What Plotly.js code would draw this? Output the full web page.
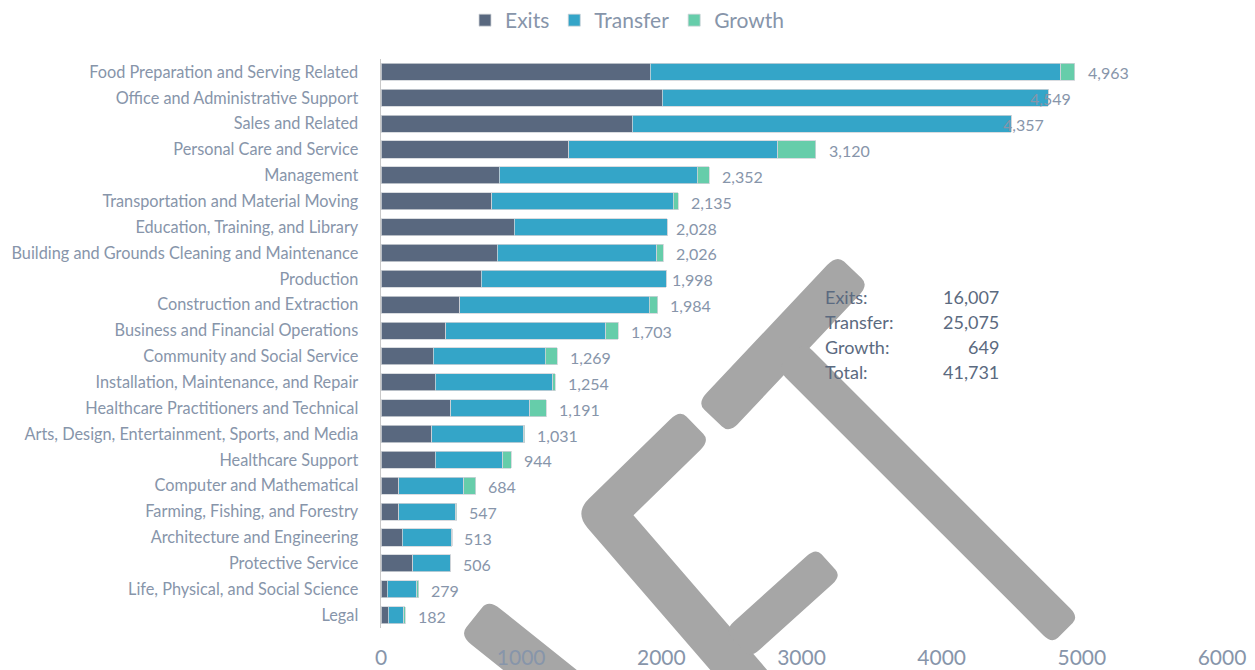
<!DOCTYPE html>
<html>
<head>
<meta charset="utf-8">
<script src="https://cdn.plot.ly/plotly-3.0.1.min.js"></script>
<style>html,body{margin:0;padding:0;background:#fff;}#chart{width:1255px;height:670px;}</style>
</head>
<body>
<div id="chart"></div>
<script>
const categories = [
  "Food Preparation and Serving Related",
  "Office and Administrative Support",
  "Sales and Related",
  "Personal Care and Service",
  "Management",
  "Transportation and Material Moving",
  "Education, Training, and Library",
  "Building and Grounds Cleaning and Maintenance",
  "Production",
  "Construction and Extraction",
  "Business and Financial Operations",
  "Community and Social Service",
  "Installation, Maintenance, and Repair",
  "Healthcare Practitioners and Technical",
  "Arts, Design, Entertainment, Sports, and Media",
  "Healthcare Support",
  "Computer and Mathematical",
  "Farming, Fishing, and Forestry",
  "Architecture and Engineering",
  "Protective Service",
  "Life, Physical, and Social Science",
  "Legal"
];
const exits    = [1922, 2008, 1794, 1338, 844, 789, 951, 830, 716, 561, 461, 373, 388, 497, 361, 388, 126, 126, 153, 226, 46, 53];
const transfer = [2928, 2751, 2703, 1494, 1413, 1297, 1090, 1137, 1318, 1354, 1141, 799, 836, 563, 658, 482, 463, 409, 351, 271, 208, 109];
const growth   = [99, 0, 0, 271, 84, 36, 0, 46, 0, 59, 92, 85, 19, 119, 5, 59, 86, 7, 5, 0, 15, 12];
const totalLabels = [4963, 4549, 4357, 3120, 2352, 2135, 2028, 2026, 1998, 1984, 1703, 1269, 1254, 1191, 1031, 944, 684, 547, 513, 506, 279, 182];
const summaryNames  = ["Exits:", "Transfer:", "Growth:", "Total:"];
const summaryValues = [16007, 25075, 649, 41731];
const xTicks = [0, 1000, 2000, 3000, 4000, 5000, 6000];

const C_EXITS = "#59687f", C_TRANSFER = "#34a5c8", C_GROWTH = "#66cdaa";
const TXT = "#8795aa", TXT_DARK = "#5b6a80";
const FONT = "Lato, 'Open Sans', sans-serif";
const WM = "#a6a6a6";

const W = 1255, H = 670;
const M = {l: 381, r: 33, t: 59, b: 42};
const PW = W - M.l - M.r, PH = H - M.t - M.b;
const px = x => (x - M.l) / PW;
const py = y => (H - M.b - y) / PH;
const P = (x, y) => px(x).toFixed(5) + "," + py(y).toFixed(5);

function unit(ax, ay, bx, by) { const dx = bx - ax, dy = by - ay, L = Math.hypot(dx, dy); return [dx / L, dy / L]; }

function stroke(x1, y1, x2, y2, w) {
  const [ex, ey] = unit(x1, y1, x2, y2);
  const nx = -ey * w / 2, ny = ex * w / 2;
  const ux = ex * w * 0.16, uy = ey * w * 0.16;
  const kx = nx * 0.55, ky = ny * 0.55;
  return {
    type: "path", xref: "paper", yref: "paper", layer: "below",
    fillcolor: WM, line: {width: 0},
    path: "M" + P(x1 + nx, y1 + ny) +
          " L" + P(x2 + nx - ux, y2 + ny - uy) +
          " Q" + P(x2 + nx + ux, y2 + ny + uy) + " " + P(x2 + kx + ux, y2 + ky + uy) +
          " L" + P(x2 - kx + ux, y2 - ky + uy) +
          " Q" + P(x2 - nx + ux, y2 - ny + uy) + " " + P(x2 - nx - ux, y2 - ny - uy) +
          " L" + P(x1 - nx + ux, y1 - ny + uy) +
          " Q" + P(x1 - nx - ux, y1 - ny - uy) + " " + P(x1 - kx - ux, y1 - ky - uy) +
          " L" + P(x1 + kx - ux, y1 + ky - uy) +
          " Q" + P(x1 + nx - ux, y1 + ny - uy) + " " + P(x1 + nx + ux, y1 + ny + uy) + " Z"
  };
}

// bent stroke A -> B -> C with a rounded outer corner
function bent(A, B, C, w) {
  const h = w / 2;
  const d1 = unit(A[0], A[1], B[0], B[1]), d2 = unit(B[0], B[1], C[0], C[1]);
  const n1 = [-d1[1], d1[0]], n2 = [-d2[1], d2[0]];
  let mx = n1[0] + n2[0], my = n1[1] + n2[1]; const mL = Math.hypot(mx, my); mx /= mL; my /= mL;
  const len = h / (mx * n1[0] + my * n1[1]);
  const om = [B[0] + mx * len, B[1] + my * len], im = [B[0] - mx * len, B[1] - my * len];
  const r = 20;
  const ux = d1[0] * w * 0.16, uy = d1[1] * w * 0.16;
  const kx = n1[0] * h * 0.55, ky = n1[1] * h * 0.55;
  const ao = [A[0] + n1[0] * h, A[1] + n1[1] * h], ai = [A[0] - n1[0] * h, A[1] - n1[1] * h];
  return {
    type: "path", xref: "paper", yref: "paper", layer: "below",
    fillcolor: WM, line: {width: 0},
    path: "M" + P(ao[0] + ux, ao[1] + uy) +
          " L" + P(om[0] - d1[0] * r, om[1] - d1[1] * r) +
          " Q" + P(om[0], om[1]) + " " + P(om[0] + d2[0] * r, om[1] + d2[1] * r) +
          " L" + P(C[0] + n2[0] * h, C[1] + n2[1] * h) +
          " L" + P(C[0] - n2[0] * h, C[1] - n2[1] * h) +
          " L" + P(im[0], im[1]) +
          " L" + P(ai[0] + ux, ai[1] + uy) +
          " Q" + P(ai[0] - ux, ai[1] - uy) + " " + P(A[0] - kx - ux, A[1] - ky - uy) +
          " L" + P(A[0] + kx - ux, A[1] + ky - uy) +
          " Q" + P(ao[0] - ux, ao[1] - uy) + " " + P(ao[0] + ux, ao[1] + uy) + " Z"
  };
}

const shapes = [
  stroke(718, 413, 848, 275, 44),
  stroke(795, 360, 1061, 626, 38),
  bent([690, 430], [604, 514], [775, 712], 43),
  stroke(742, 640, 824, 566, 38),
  stroke(480, 622, 590, 710, 46)
];

const mk = (name, vals, color) => ({
  type: "bar", orientation: "h", name: name, x: vals, y: categories,
  marker: {color: color, line: {color: "#cfd3d8", width: 0.8}},
  hoverinfo: "x+name"
});

const data = [
  mk("Exits", exits, C_EXITS),
  mk("Transfer", transfer, C_TRANSFER),
  mk("Growth", growth, C_GROWTH)
];

const annotations = [];
categories.forEach((c, i) => {
  annotations.push({
    x: totalLabels[i], y: c, xref: "x", yref: "y", xanchor: "left", yanchor: "middle",
    xshift: 9, yshift: -1, showarrow: false, text: totalLabels[i].toLocaleString("en-US"),
    font: {family: FONT, size: 16, color: TXT}
  });
});
const sumY = [297, 322, 347, 372];
summaryNames.forEach((n, i) => {
  annotations.push({
    x: px(823), y: py(sumY[i]), xref: "paper", yref: "paper", xanchor: "left", yanchor: "middle",
    showarrow: false, text: n, font: {family: FONT, size: 18, color: TXT_DARK}
  });
  annotations.push({
    x: px(1001), y: py(sumY[i]), xref: "paper", yref: "paper", xanchor: "right", yanchor: "middle",
    showarrow: false, text: summaryValues[i].toLocaleString("en-US"), font: {family: FONT, size: 18, color: TXT_DARK}
  });
});

const layout = {
  width: W, height: H,
  margin: M,
  paper_bgcolor: "#ffffff", plot_bgcolor: "rgba(0,0,0,0)",
  barmode: "stack", bargap: 0.34,
  showlegend: true,
  legend: {
    orientation: "h", xref: "container", yref: "container", x: 0.5, xanchor: "center",
    y: 1.0, yanchor: "top", traceorder: "normal",
    font: {family: FONT, size: 21, color: TXT}, itemwidth: 30
  },
  xaxis: {
    range: [0, 6000], tickvals: xTicks, ticktext: xTicks.map(String),
    showgrid: false, zeroline: false, showline: false, ticks: "",
    tickfont: {family: FONT, size: 21, color: TXT}, ticklabelstandoff: 15
  },
  yaxis: {
    autorange: "reversed", showgrid: false, zeroline: false,
    showline: true, linecolor: "#c8c8c8", linewidth: 1.5, ticks: "",
    tickfont: {family: FONT, size: 16.3, color: TXT}, ticklabelstandoff: 18
  },
  shapes: shapes,
  annotations: annotations
};

Plotly.newPlot("chart", data, layout, {displayModeBar: false, staticPlot: true});
</script>
</body>
</html>
